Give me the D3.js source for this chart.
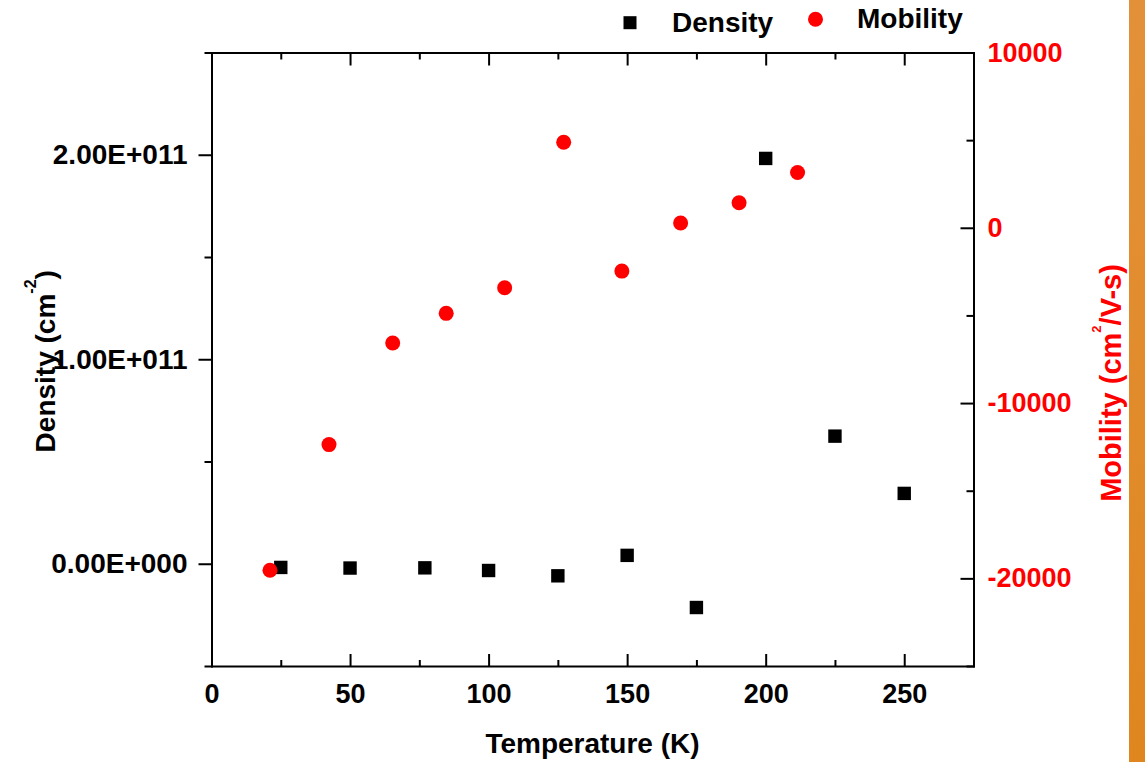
<!DOCTYPE html>
<html>
<head>
<meta charset="utf-8">
<script src="https://cdn.jsdelivr.net/npm/d3@7"></script>
<style>
  html, body { margin: 0; padding: 0; background: #ffffff; }
  svg { display: block; }
  text { font-family: Arial, "Liberation Sans", Helvetica, sans-serif; font-weight: bold; }
</style>
</head>
<body>
<svg id="chart" width="1145" height="762"></svg>
<script>
// ---------------- data ----------------
const densityTemps = [25, 50, 77, 100, 125, 150, 175, 200, 225, 250];
const densityValues = [-1.8e9, -2.1e9, -2.0e9, -3.3e9, -5.9e9, 4.1e9, -2.14e10, 1.982e11, 6.24e10, 3.44e10];

const mobilityTemps = [21.1, 42.4, 65.4, 84.7, 105.8, 127.1, 148.1, 169.3, 190.4, 211.5];
const mobilityValues = [-19540, -12370, -6570, -4880, -3420, 4880, -2470, 270, 1430, 3150];

const xTicks = [0, 50, 100, 150, 200, 250];
const xMinorTicks = [25, 75, 125, 175, 225, 275];
const densityTicks = [0, 1e11, 2e11];
const densityTickLabels = ["0.00E+000", "1.00E+011", "2.00E+011"];
const densityMinorTicks = [-0.5e11, 0.5e11, 1.5e11, 2.5e11];
const mobilityTicks = [-20000, -10000, 0, 10000];
const mobilityTickLabels = ["-20000", "-10000", "0", "10000"];
const mobilityMinorTicks = [-25000, -15000, -5000, 5000];

const seriesNames = ["Density", "Mobility"];

// ---------------- layout ----------------
const svg = d3.select("#chart");
const L = 211.5, R = 973.5, T = 52.5, B = 666;
const RED = "#ff0000";

const x = d3.scaleLinear().domain([0, 275]).range([L, R]);
const yD = d3.scaleLinear().domain([-0.5e11, 2.5e11]).range([B, T]);
const yM = d3.scaleLinear().domain([-25000, 10000]).range([B, T]);

// orange side bar
const grad = svg.append("defs").append("linearGradient")
  .attr("id", "og").attr("x1", "0").attr("y1", "0").attr("x2", "0").attr("y2", "1");
grad.append("stop").attr("offset", "0").attr("stop-color", "#e39139");
grad.append("stop").attr("offset", "1").attr("stop-color", "#df861f");
svg.append("rect").attr("x", 1129).attr("y", 0).attr("width", 16).attr("height", 762)
  .attr("fill", "url(#og)");

function styleAxis(g, color, fontSize) {
  g.selectAll("path.domain").attr("stroke", "#000").attr("stroke-width", 2)
    .attr("stroke-linecap", "square");
  g.selectAll(".tick line").attr("stroke", "#000").attr("stroke-width", 2);
  g.selectAll(".tick text").attr("fill", color).style("font-size", fontSize + "px")
    .style("font-weight", "bold").style("font-family", "Arial, 'Liberation Sans', sans-serif");
}

// bottom axis (ticks inward)
const gB = svg.append("g").attr("transform", `translate(0,${B})`)
  .call(d3.axisBottom(x).tickValues(xTicks).tickSize(-12).tickSizeOuter(0).tickPadding(18)
    .tickFormat(d3.format("d")));
styleAxis(gB, "#000", 27);
const gBm = svg.append("g").attr("transform", `translate(0,${B})`)
  .call(d3.axisBottom(x).tickValues(xMinorTicks).tickSize(-6).tickSizeOuter(0).tickFormat(""));
styleAxis(gBm, "#000", 27);
gBm.select("path.domain").remove();

// top axis (ticks inward, no labels)
const gT = svg.append("g").attr("transform", `translate(0,${T})`)
  .call(d3.axisTop(x).tickValues(xTicks).tickSize(-13).tickSizeOuter(0).tickFormat(""));
styleAxis(gT, "#000", 27);
const gTm = svg.append("g").attr("transform", `translate(0,${T})`)
  .call(d3.axisTop(x).tickValues(xMinorTicks).tickSize(-7).tickSizeOuter(0).tickFormat(""));
styleAxis(gTm, "#000", 27);
gTm.select("path.domain").remove();

// left axis (ticks outward)
const gL = svg.append("g").attr("transform", `translate(${L},0)`)
  .call(d3.axisLeft(yD).tickValues(densityTicks).tickSize(13).tickSizeOuter(0).tickPadding(11)
    .tickFormat((d, i) => densityTickLabels[i]));
styleAxis(gL, "#000", 28);
const gLm = svg.append("g").attr("transform", `translate(${L},0)`)
  .call(d3.axisLeft(yD).tickValues(densityMinorTicks).tickSize(7).tickSizeOuter(0).tickFormat(""));
styleAxis(gLm, "#000", 27);
gLm.select("path.domain").remove();

// right axis (ticks inward, red labels)
const gR = svg.append("g").attr("transform", `translate(${R},0)`)
  .call(d3.axisRight(yM).tickValues(mobilityTicks).tickSize(-13).tickSizeOuter(0).tickPadding(14)
    .tickFormat((d, i) => mobilityTickLabels[i]));
styleAxis(gR, RED, 27);
const gRm = svg.append("g").attr("transform", `translate(${R},0)`)
  .call(d3.axisRight(yM).tickValues(mobilityMinorTicks).tickSize(-7).tickSizeOuter(0).tickFormat(""));
styleAxis(gRm, RED, 27);
gRm.select("path.domain").remove();

// axis titles
svg.append("text").attr("x", (L + R) / 2).attr("y", 753).attr("text-anchor", "middle")
  .style("font-size", "28px").attr("fill", "#000").text("Temperature (K)");

const lt = svg.append("text").attr("transform", `translate(55,${(T + B) / 2 + 2}) rotate(-90)`)
  .attr("text-anchor", "middle").style("font-size", "28px").attr("fill", "#000");
lt.append("tspan").text("Density (cm");
lt.append("tspan").attr("dy", -19).style("font-size", "16px").text("-2");
lt.append("tspan").attr("dy", 19).text(")");

const rt = svg.append("text").attr("transform", `translate(1121,383) rotate(-90)`)
  .attr("text-anchor", "middle").style("font-size", "29px").attr("fill", RED);
rt.append("tspan").text("Mobility (cm");
rt.append("tspan").attr("dy", -20).style("font-size", "13px").text("2");
rt.append("tspan").attr("dy", 20).text("/V-s)");

// data marks
const dens = densityTemps.map((t, i) => ({ t, v: densityValues[i] }));
const mob = mobilityTemps.map((t, i) => ({ t, v: mobilityValues[i] }));
const S = 13.4;
svg.append("g").selectAll("rect").data(dens).join("rect")
  .attr("x", d => x(d.t) - S / 2).attr("y", d => yD(d.v) - S / 2)
  .attr("width", S).attr("height", S).attr("fill", "#000");
svg.append("g").selectAll("circle").data(mob).join("circle")
  .attr("cx", d => x(d.t)).attr("cy", d => yM(d.v)).attr("r", 7.5).attr("fill", RED);

// legend
const lg = svg.append("g");
lg.append("rect").attr("x", 630 - 6.5).attr("y", 22.7 - 6.5).attr("width", 13).attr("height", 13).attr("fill", "#000");
lg.append("text").attr("x", 672).attr("y", 32).style("font-size", "28px").attr("fill", "#000").text(seriesNames[0]);
lg.append("circle").attr("cx", 815.5).attr("cy", 19.3).attr("r", 7.5).attr("fill", RED);
lg.append("text").attr("x", 857).attr("y", 28).style("font-size", "28px").attr("fill", "#000").text(seriesNames[1]);
</script>
</body>
</html>
